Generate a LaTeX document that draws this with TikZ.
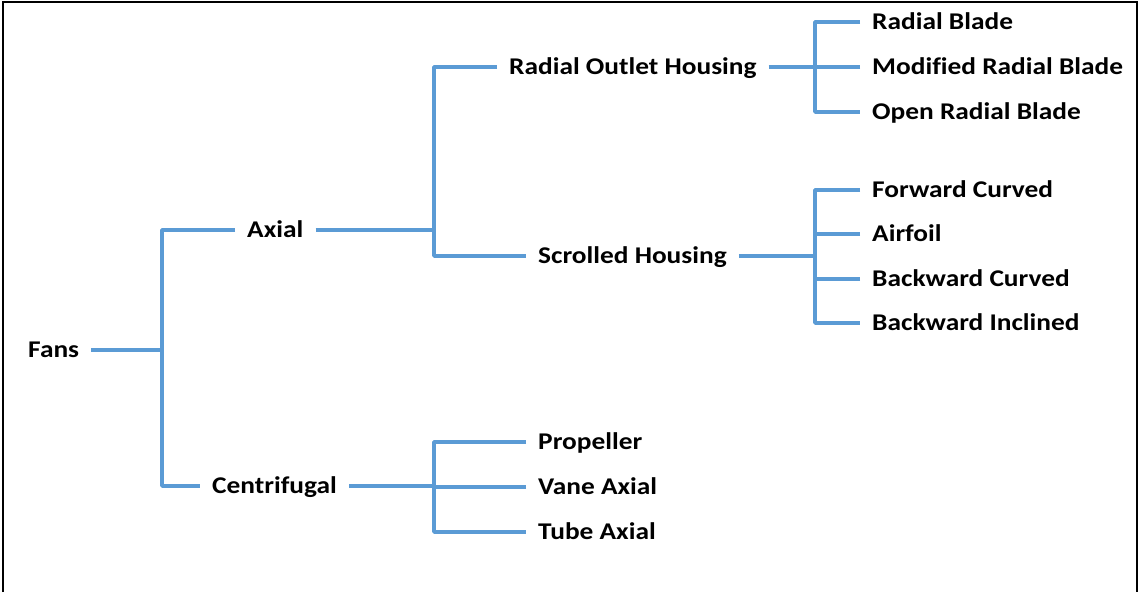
\documentclass[tikz,border=0pt]{standalone}
\usepackage{fontspec}
\setmainfont{Carlito}[FakeStretch=1.14, Ligatures=NoCommon]
\definecolor{branch}{HTML}{5B9BD5}
\tikzset{
  item/.style={anchor=west, font=\bfseries\fontsize{24}{28}\selectfont,
    text height=18pt, text depth=2.5pt, inner xsep=12pt, inner ysep=0pt},
  link/.style={draw=branch, line width=3.6pt, line join=round},
  frame/.style={draw=black, line width=2pt},
}
\begin{document}
\begin{tikzpicture}[x=1pt,y=-1pt]
\useasboundingbox (0,0) rectangle (1139,592);
% open frame: left, top and right sides
\draw[frame] (2.5,592) -- (2.5,1.5) -- (1136.5,1.5) -- (1136.5,592);

% junction columns
\coordinate (j1) at (162,350);
\coordinate (j2) at (434,0);
\coordinate (j3) at (815,0);

% labels
\node[item] (fans)   at (16,350)  {Fans};
\node[item] (axial)  at (235,230) {Axial};
\node[item] (centri) at (200,486) {Centrifugal};
\node[item] (roh)    at (497,67)  {Radial Outlet Housing};
\node[item] (scroll) at (526,256) {Scrolled Housing};
\node[item] (rblade) at (860,22)  {Radial Blade};
\node[item] (mblade) at (860,67)  {Modified Radial Blade};
\node[item] (oblade) at (860,112) {Open Radial Blade};
\node[item] (fwd)    at (860,190) {Forward Curved};
\node[item] (airf)   at (860,234) {Airfoil};
\node[item] (bwdc)   at (860,279) {Backward Curved};
\node[item] (bwdi)   at (860,323) {Backward Inclined};
\node[item] (prop)   at (526,442) {Propeller};
\node[item] (vane)   at (526,487) {Vane Axial};
\node[item] (tube)   at (526,532) {Tube Axial};

% Fans -> Axial / Centrifugal
\draw[link] (fans.east) -- (j1);
\draw[link] (axial.west) -- (axial.west -| j1) -- (centri.west -| j1) -- (centri.west);

% Axial -> housings
\draw[link] (axial.east) -- (axial.east -| j2);
\draw[link] (roh.west) -- (roh.west -| j2) -- (scroll.west -| j2) -- (scroll.west);

% Radial Outlet Housing -> blades
\draw[link] (roh.east) -- (roh.east -| j3);
\draw[link] (rblade.west) -- (rblade.west -| j3) -- (oblade.west -| j3) -- (oblade.west);
\draw[link] (mblade.west) -- (mblade.west -| j3);

% Scrolled Housing -> blade forms
\draw[link] (scroll.east) -- (scroll.east -| j3);
\draw[link] (fwd.west) -- (fwd.west -| j3) -- (bwdi.west -| j3) -- (bwdi.west);
\draw[link] (airf.west) -- (airf.west -| j3);
\draw[link] (bwdc.west) -- (bwdc.west -| j3);

% Centrifugal -> types
\draw[link] (centri.east) -- (centri.east -| j2);
\draw[link] (prop.west) -- (prop.west -| j2) -- (tube.west -| j2) -- (tube.west);
\draw[link] (vane.west) -- (vane.west -| j2);
\end{tikzpicture}
\end{document}
